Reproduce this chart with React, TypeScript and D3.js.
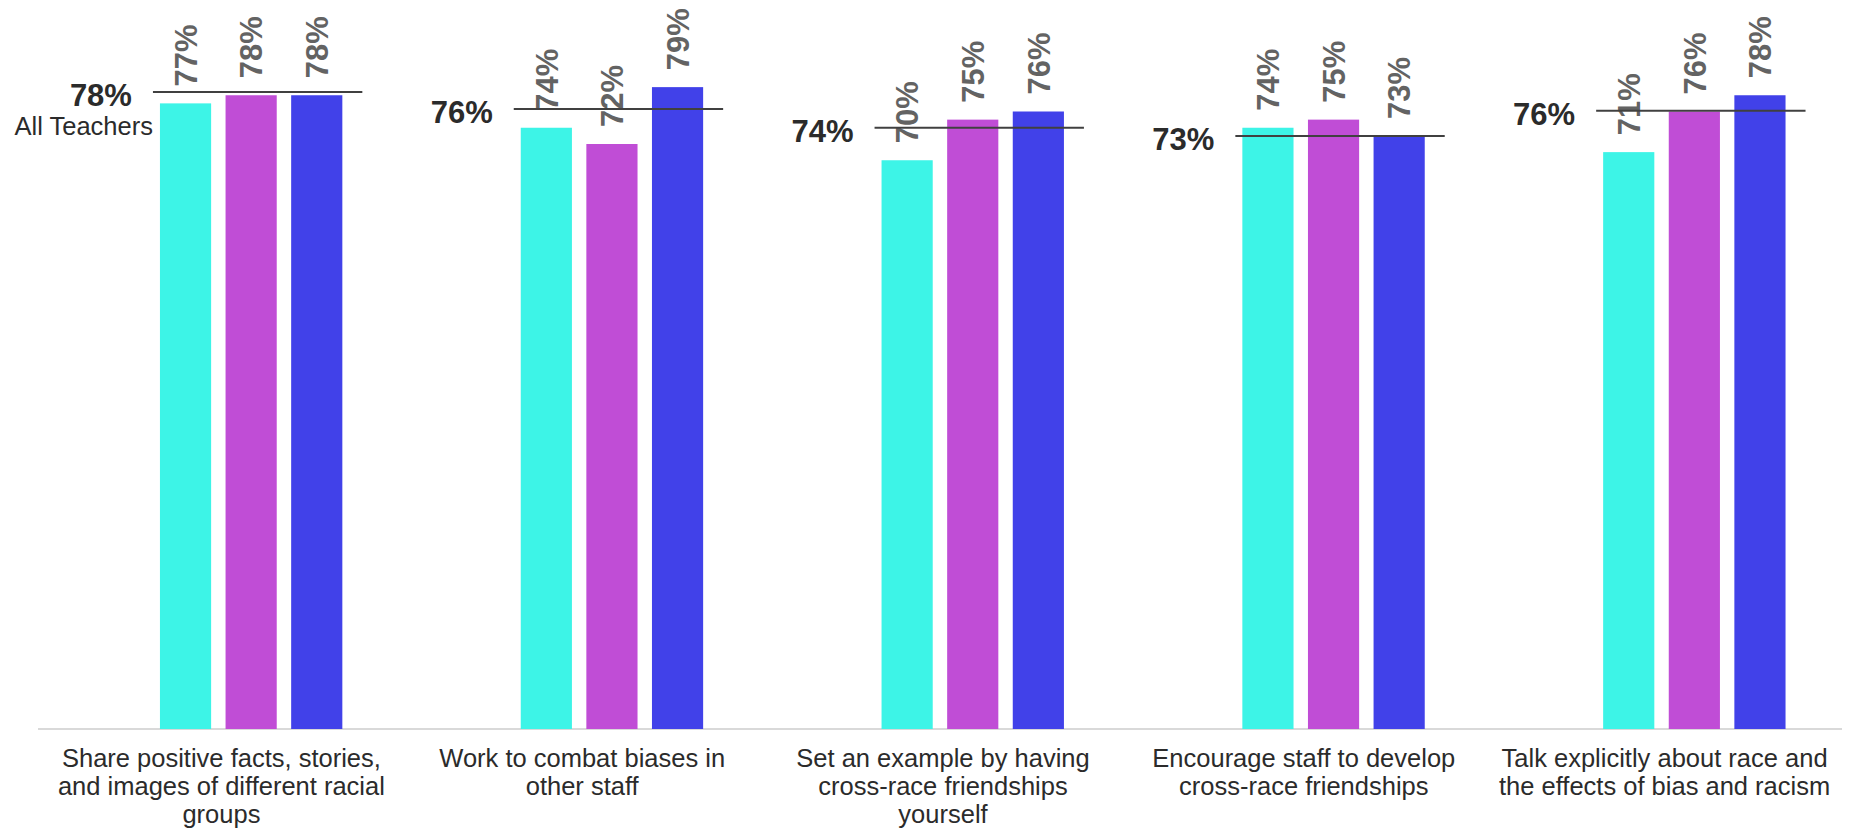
import React, { useEffect } from "react";
import * as d3 from "d3";

const categories: string[][] = [
  ["Share positive facts, stories,", "and images of different racial", "groups"],
  ["Work to combat biases in", "other staff"],
  ["Set an example by having", "cross-race friendships", "yourself"],
  ["Encourage staff to develop", "cross-race friendships"],
  ["Talk explicitly about race and", "the effects of bias and racism"],
];
const seriesNames = ["Group A", "Group B", "Group C"];
const seriesA = [77, 74, 70, 74, 71];
const seriesB = [78, 72, 75, 75, 76];
const seriesC = [78, 79, 76, 73, 78];
const allTeachers = [78.4, 76.3, 74.0, 73.0, 76.1];
const colors = ["#3DF4E7", "#C04DD6", "#4141E9"];

const W = 1862;
const H = 834;

export default function App() {
  useEffect(() => {
    document.body.style.margin = "0";
  }, []);

  const series = [seriesA, seriesB, seriesC];
  const x = d3
    .scaleBand<number>()
    .domain(categories.map((_, i) => i))
    .range([38, 1842])
    .padding(0);
  const bw = x.bandwidth();
  const inner = d3
    .scaleBand<number>()
    .domain(seriesNames.map((_, i) => i))
    .range([bw * 0.338, bw * 0.8435])
    .paddingInner(0.22)
    .paddingOuter(0);
  const y = d3.scaleLinear().domain([0, 100]).range([729, 729 - 812.5]);

  const font = "'Liberation Sans', Arial, Helvetica, sans-serif";

  return (
    <svg width={W} height={H} style={{ display: "block", background: "#fff" }} fontFamily={font}>
      <line x1={38} x2={1842} y1={729} y2={729} stroke="#d9d9d9" strokeWidth={2} />
      {categories.map((lines, ci) => {
        const x0 = x(ci)!;
        const cx = x0 + bw / 2;
        const lineStart = x0 + inner(0)! - 7;
        const lineEnd = x0 + inner(2)! + inner.bandwidth() + 20;
        const ly = y(allTeachers[ci]);
        return (
          <g key={ci}>
            {series.map((vals, si) => {
              const bx = x0 + inner(si)!;
              const top = y(vals[ci]);
              return (
                <g key={si}>
                  <rect
                    x={bx}
                    y={top}
                    width={inner.bandwidth()}
                    height={y(0) - top}
                    fill={colors[si]}
                  />
                  <text
                    transform={`translate(${bx + inner.bandwidth() / 2},${top - 17}) rotate(-90)`}
                    dy="0.36em"
                    fontSize={31}
                    fontWeight="bold"
                    fill="#636363"
                    textAnchor="start"
                  >
                    {vals[ci]}%
                  </text>
                </g>
              );
            })}
            <line x1={lineStart} x2={lineEnd} y1={ly} y2={ly} stroke="#404040" strokeWidth={2} />
            <text
              x={lineStart - 21}
              y={ly + 14}
              fontSize={31}
              fontWeight="bold"
              fill="#2b2b2b"
              textAnchor="end"
            >
              {Math.round(allTeachers[ci])}%
            </text>
            {ci === 0 && (
              <text x={lineStart} y={ly + 43} fontSize={25.5} fill="#2b2b2b" textAnchor="end">
                All Teachers
              </text>
            )}
            <text fontSize={25.5} fill="#2b2b2b" textAnchor="middle">
              {lines.map((l, li) => (
                <tspan key={li} x={cx + 3} y={767 + li * 28}>
                  {l}
                </tspan>
              ))}
            </text>
          </g>
        );
      })}
    </svg>
  );
}
